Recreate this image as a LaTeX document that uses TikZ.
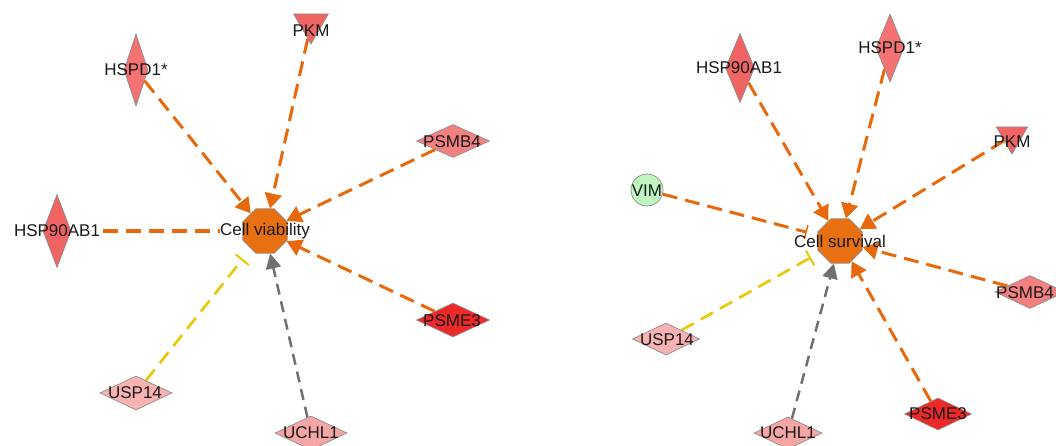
\documentclass[tikz,border=0pt]{standalone}
\usepackage{fontspec}
\setmainfont{Liberation Sans}
\usetikzlibrary{shapes.geometric,arrows.meta}
\definecolor{edgeorange}{RGB}{232,105,12}
\definecolor{edgeyellow}{RGB}{232,200,10}
\definecolor{edgegray}{RGB}{112,112,112}
\definecolor{octfill}{RGB}{232,112,16}
\definecolor{nodeborder}{RGB}{140,140,140}
\definecolor{redA}{RGB}{240,100,100}
\definecolor{redB}{RGB}{244,114,114}
\definecolor{redC}{RGB}{244,128,128}
\definecolor{redD}{RGB}{236,40,40}
\definecolor{pinkA}{RGB}{249,178,178}
\definecolor{pinkB}{RGB}{247,166,166}
\definecolor{greenA}{RGB}{192,245,192}
\definecolor{txt}{RGB}{25,25,25}
\pgfdeclarelayer{bg}
\pgfsetlayers{bg,main}
\begin{document}
\begin{tikzpicture}[x=1pt,y=-1pt,
  oct/.style={regular polygon, regular polygon sides=8, minimum size=48pt, inner sep=0pt, fill=octfill, draw=nodeborder, line width=0.7pt},
  dia/.style={diamond, inner sep=0pt, draw=nodeborder, line width=0.7pt},
  tri/.style={regular polygon, regular polygon sides=3, shape border rotate=180, inner sep=0pt, draw=nodeborder, line width=0.7pt},
  circ/.style={circle, minimum size=32pt, inner sep=0pt, draw=nodeborder, line width=0.7pt, fill=greenA},
  lbl/.style={font=\fontsize{17}{20}\selectfont, text=txt, inner sep=0pt},
  act/.style={draw=edgeorange, line width=3pt, dash pattern=on 15pt off 8pt, -{Triangle[length=15pt,width=17pt]}},
  actplain/.style={draw=edgeorange, line width=3pt, dash pattern=on 15pt off 8pt},
  grayact/.style={draw=edgegray, line width=2.5pt, dash pattern=on 11pt off 7pt, -{Triangle[length=15pt,width=15pt]}},
  inhyel/.style={draw=edgeyellow, line width=2.7pt, dash pattern=on 14pt off 8pt, -{Bar[width=17pt,line width=2pt]}},
  inhor/.style={draw=edgeorange, line width=3pt, dash pattern=on 15pt off 8pt, -{Bar[width=14pt,line width=1.5pt]}}
]
\useasboundingbox (0,0) rectangle (1056,446);

% ---------- left panel ----------
\node[oct] (cv) at (265,231) {};
\node[lbl] (cvL) at (265,231) {Cell viability};
\node[dia, minimum width=24pt, minimum height=72pt, fill=redB] (lhspd) at (136,70) {};
\node[lbl] (lhspdL) at (136,70) {HSPD1*};
\node[tri, minimum size=40pt, fill=redA] (lpkm) at (311,24) {};
\node[lbl] (lpkmL) at (311,31) {PKM};
\node[dia, minimum width=73pt, minimum height=33pt, fill=redC] (lpsmb) at (453,141) {};
\node[lbl] (lpsmbL) at (452,142) {PSMB4};
\node[dia, minimum width=28pt, minimum height=73pt, fill=redA] (lhsp) at (57,231) {};
\node[lbl] (lhspL) at (57,231) {HSP90AB1};
\node[dia, minimum width=73pt, minimum height=34pt, fill=redD] (lpsme) at (453,320) {};
\node[lbl] (lpsmeL) at (452,321) {PSME3};
\node[dia, minimum width=72pt, minimum height=34pt, fill=pinkA] (lusp) at (136,393) {};
\node[lbl] (luspL) at (135,393) {USP14};
\node[dia, minimum width=72pt, minimum height=34pt, fill=pinkB] (luch) at (311,433) {};
\node[lbl] (luchL) at (311,433) {UCHL1};

\begin{pgfonlayer}{bg}
\draw[act] (lhspd) -- (cv);
\draw[act] (lpkm) -- (cv);
\draw[act] (lpsmb) -- (cv);
\draw[act] (lpsme) -- (cv);
\draw[actplain] (lhspL.east) ++(3,0) coordinate (lhspS) (lhspS) -- (cvL.west);
\draw[inhyel, shorten >=13pt] (lusp) -- (cv);
\draw[grayact] (luch) -- (cv);
\end{pgfonlayer}

% ---------- right panel ----------
\node[oct] (cs) at (840,241) {};
\node[lbl] (csL) at (840,241) {Cell survival};
\node[dia, minimum width=29pt, minimum height=69pt, fill=redA] (rhsp) at (740,68) {};
\node[lbl] (rhspL) at (739,68) {HSP90AB1};
\node[dia, minimum width=28pt, minimum height=68pt, fill=redB] (rhspd) at (890,48) {};
\node[lbl] (rhspdL) at (890,48) {HSPD1*};
\node[tri, minimum size=36pt, fill=redA] (rpkm) at (1012,136) {};
\node[lbl] (rpkmL) at (1012,142) {PKM};
\node[circ] (rvim) at (647,190) {};
\node[lbl] (rvimL) at (647,191) {VIM};
\node[dia, minimum width=70pt, minimum height=33pt, fill=redC] (rpsmb) at (1030,292) {};
\node[lbl] (rpsmbL) at (1025,293) {PSMB4};
\node[dia, minimum width=67pt, minimum height=32pt, fill=pinkA] (rusp) at (666,339) {};
\node[lbl] (ruspL) at (667,340) {USP14};
\node[dia, minimum width=68pt, minimum height=32pt, fill=pinkB] (ruch) at (788,433) {};
\node[lbl] (ruchL) at (788,433) {UCHL1};
\node[dia, minimum width=67pt, minimum height=32pt, fill=redD] (rpsme) at (938,414) {};
\node[lbl] (rpsmeL) at (938,414) {PSME3};

\begin{pgfonlayer}{bg}
\draw[act] (rhsp) -- (cs);
\draw[act] (rhspd) -- (cs);
\draw[act] (rpkm) -- (cs);
\draw[act] (rpsmb) -- (cs);
\draw[act] (rpsme) -- (cs);
\draw[inhor, shorten >=11pt] (rvim) -- (cs);
\draw[inhyel, shorten >=10pt] (rusp) -- (cs);
\draw[grayact] (ruch) -- (cs);
\end{pgfonlayer}
\end{tikzpicture}
\end{document}
